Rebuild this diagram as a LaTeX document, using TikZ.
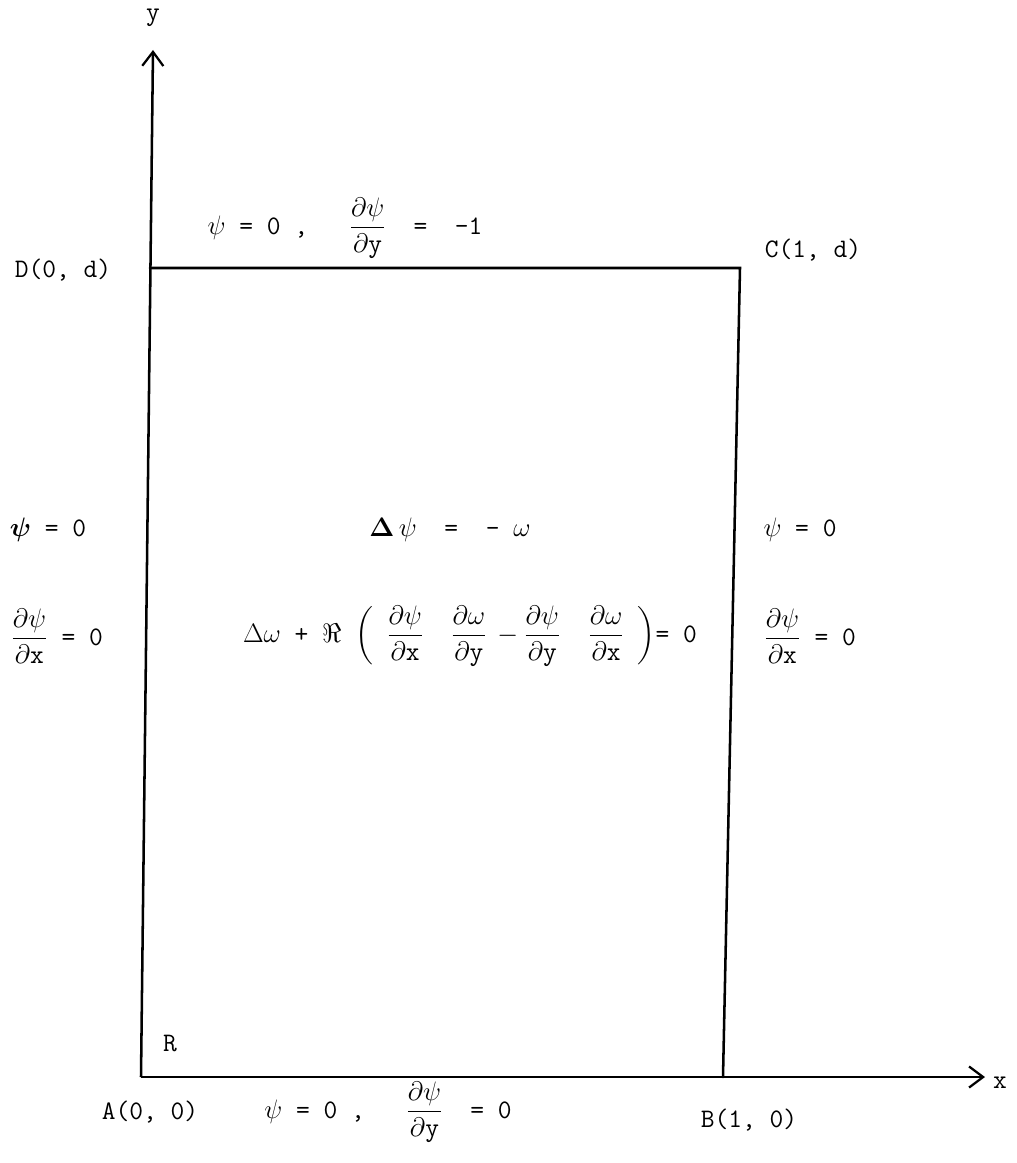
\RequirePackage{fix-cm}
\documentclass[tikz,border=0pt]{standalone}
\usepackage{amsmath}
\usepackage{fontspec}
\usetikzlibrary{arrows.meta}
\begin{document}
\begin{tikzpicture}[x=0.025cm,y=-0.025cm,
  lab/.style={font=\fontsize{19}{22}\selectfont\ttfamily, inner sep=0pt},
  edge/.style={line width=1.8pt, line cap=round},
  axis/.style={line width=1.8pt, -{Straight Barb[length=10pt,width=15pt,line width=1.6pt]}}]
\useasboundingbox (0,0) rectangle (1017,1163);
% corners
\coordinate (A) at (141,1077);
\coordinate (B) at (723,1077);
\coordinate (C) at (740,268);
\coordinate (D) at (150,268);
\coordinate (Ytop) at (153,50);
\coordinate (Xend) at (985,1077);
% axes and box
\draw[axis] (A) -- (Ytop);
\draw[axis] (A) -- (Xend);
\draw[edge] (D) -- (C) -- (B);
% labels
\node[lab] (ylab) at (153,18) {y};
\node[lab] (xlab) at (1000,1083) {x};
\node[lab] (Dlab) at (63,270) {D(0, d)};
\node[lab] (Clab) at (813,250) {C(1, d)};
\node[lab] (Alab) at (150,1112) {A(0, 0)};
\node[lab] (Blab) at (749,1120) {B(1, 0)};
\node[lab] (Rlab) at (170,1043) {R};
% top boundary
\node[lab] (top) at (345,228) {$\psi$ = 0 ,\ \ \ $\dfrac{\partial\psi}{\partial\texttt{y}}$\ \ = \ -1};
% bottom boundary
\node[lab] (bot) at (388,1112) {$\psi$ = 0 ,\ \ \ $\dfrac{\partial\psi}{\partial\texttt{y}}$\ \ = 0};
% left boundary
\node[lab] (l1) at (48,530) {$\boldsymbol{\psi}$ = 0};
\node[lab] (l2) at (57,636) {$\dfrac{\partial\psi}{\partial\texttt{x}}$ = 0};
% right boundary
\node[lab] (r1) at (800,530) {$\psi$ = 0};
\node[lab] (r2) at (810,636) {$\dfrac{\partial\psi}{\partial\texttt{x}}$ = 0};
% interior equations
\node[lab] (e1) at (450,530) {$\boldsymbol{\Delta}\,\psi$\ \ =\ \ - $\omega$};
\node[lab] (e2) at (470,636) {$\Delta\omega$ + $\Re$ $\left(\ \dfrac{\partial\psi}{\partial\texttt{x}}\ \ \dfrac{\partial\omega}{\partial\texttt{y}}\, - \dfrac{\partial\psi}{\partial\texttt{y}}\ \ \dfrac{\partial\omega}{\partial\texttt{x}}\ \right)$= 0};
\end{tikzpicture}
\end{document}
